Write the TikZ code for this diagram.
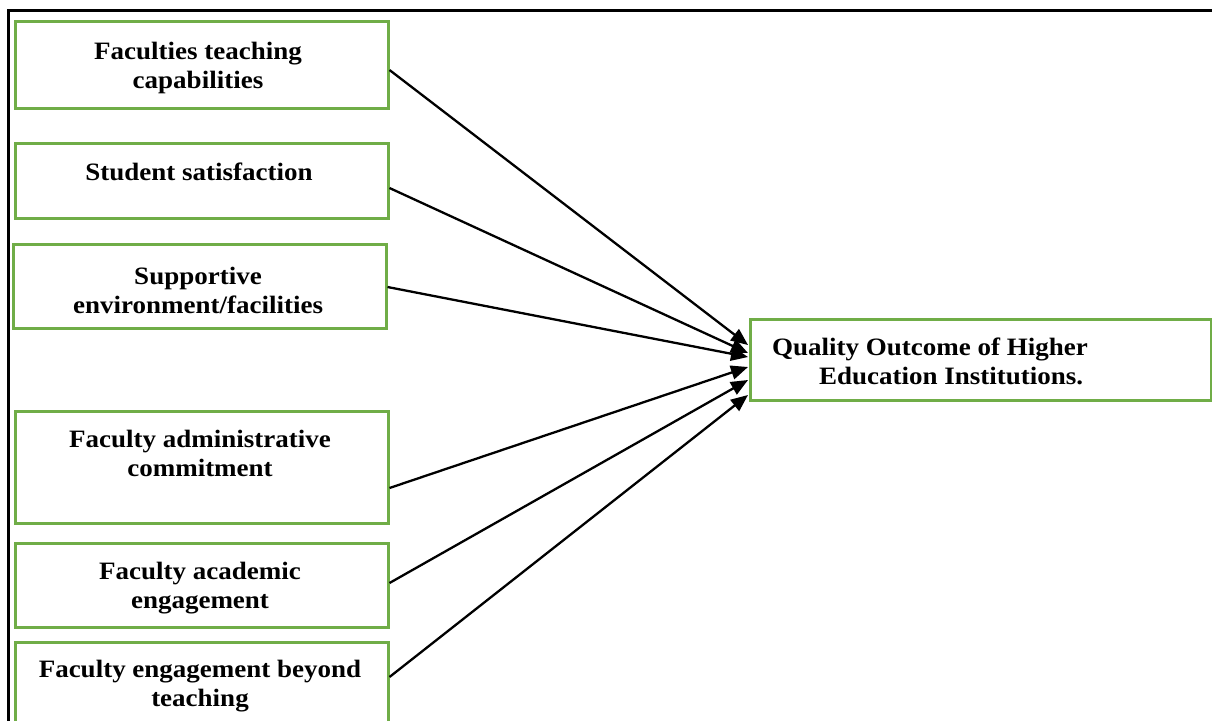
\documentclass[tikz,border=0pt]{standalone}
\usepackage{fontspec}
\setmainfont{Liberation Serif}[FakeStretch=1.08]
\usetikzlibrary{arrows.meta,calc}
\definecolor{boxgreen}{RGB}{112,173,71}
\tikzset{
  box/.style={draw=boxgreen, line width=2.5pt, rectangle, inner sep=0pt, anchor=north west},
  txt/.style={inner sep=0pt, align=center, font=\fontsize{25}{29}\selectfont\bfseries},
  conn/.style={line width=2.3pt, -{Triangle[length=17pt,width=14pt]}},
  frameline/.style={line width=3pt}
}
\begin{document}
\begin{tikzpicture}[x=1pt,y=-1pt]
\useasboundingbox (0,0) rectangle (1212,720);
\clip (0,0) rectangle (1212,720);
\fill[white] (0,0) rectangle (1212,720);
\draw[frameline] (8,740) -- (8,10) -- (1230,10);
% source boxes
\node[box, minimum width=373pt, minimum height=87pt]  (b1) at (14,20)  {};
\node[box, minimum width=373pt, minimum height=75pt]  (b2) at (14,142) {};
\node[box, minimum width=373pt, minimum height=84pt]  (b3) at (12,243) {};
\node[box, minimum width=373pt, minimum height=112pt] (b4) at (14,410) {};
\node[box, minimum width=373pt, minimum height=84pt]  (b5) at (14,542) {};
\node[box, minimum width=373pt, minimum height=110pt] (b6) at (14,641) {};
% texts
\node[txt] (t1) at (198,68)    {Faculties teaching\\capabilities};
\node[txt] (t2) at (199,171.5) {Student satisfaction};
\node[txt] (t3) at (198,290.5) {Supportive\\environment/facilities};
\node[txt] (t4) at (200,453.5) {Faculty administrative\\commitment};
\node[txt] (t5) at (200,588)   {Faculty academic\\engagement};
\node[txt] (t6) at (200,686)   {Faculty engagement beyond\\teaching};
% target
\node[box, minimum width=461pt, minimum height=81pt] (q) at (749,318) {};
\node[txt, align=left, anchor=north west] (qt) at (772,338)
  {Quality Outcome of Higher\\\hspace*{47pt}Education Institutions.};
% connectors
\draw[conn] ($(b1.north east)+(0,50)$) -- ($(q.north west)+(-1,27)$);
\draw[conn] ($(b2.north east)+(0,46)$) -- ($(q.north west)+(-1,35)$);
\draw[conn] ($(b3.north east)+(0,44)$) -- ($(q.north west)+(-1,39)$);
\draw[conn] ($(b4.north east)+(0,78)$) -- ($(q.north west)+(-1,49)$);
\draw[conn] ($(b5.north east)+(0,41)$) -- ($(q.north west)+(-1,62)$);
\draw[conn] ($(b6.north east)+(0,36)$) -- ($(q.north west)+(-1,77)$);
\end{tikzpicture}
\end{document}
